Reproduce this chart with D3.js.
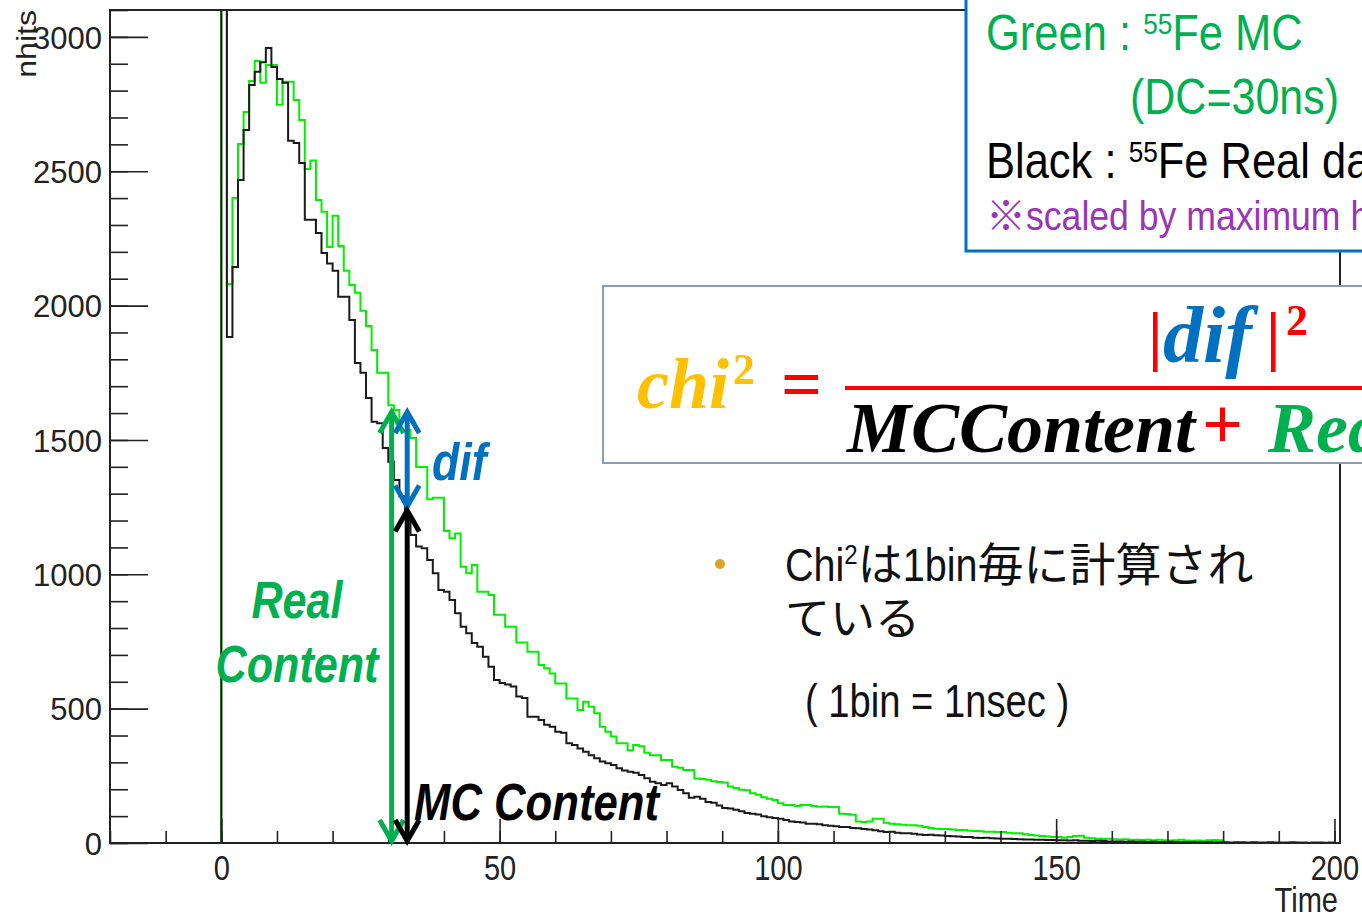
<!DOCTYPE html>
<html>
<head>
<meta charset="utf-8">
<script src="https://cdn.jsdelivr.net/npm/d3@7"></script>
<style>
  html, body { margin: 0; padding: 0; background: #ffffff; }
  svg { display: block; }
  svg text { white-space: pre; }
</style>
</head>
<body>
<svg id="chart" width="1362" height="918"></svg>
<script>
// 55Fe hit-time spectra, 1 ns bins starting at t = 0 (first bin runs off scale)
const binWidth = 1;

// Green : 55Fe MC (DC = 30 ns)
const mcHits = [
  3400, 2080, 2400, 2601, 2720, 2836, 2910, 2829, 2895, 2895,
  2747, 2833, 2833, 2765, 2691, 2508, 2540, 2393, 2349, 2218,
  2334, 2222, 2130, 2077, 2048, 1981, 1924, 1835, 1750, 1750,
  1629, 1611, 1537, 1537, 1507, 1399, 1399, 1279, 1285, 1285,
  1161, 1134, 1152, 1028, 1004, 1035, 935, 935, 923, 849,
  849, 805, 805, 746, 746, 712, 712, 662, 650, 631,
  594, 594, 538, 538, 495, 526, 507, 483, 433, 414,
  396, 371, 371, 345, 365, 360, 336, 327, 327, 309,
  309, 284, 280, 272, 272, 240, 238, 235, 230, 227,
  225, 210, 205, 198, 196, 185, 180, 170, 165, 160,
  148, 141, 141, 138, 141, 141, 138, 135, 136, 134,
  134, 109, 108, 105, 80, 78, 80, 90, 90, 75,
  72, 70, 68, 66, 66, 64, 60, 56, 53, 52,
  52, 50, 48, 48, 46, 45, 44, 42, 42, 41,
  41, 38, 36, 36, 33, 30, 28, 26, 24, 22,
  22, 20, 22, 26, 27, 20, 18, 16, 15, 16,
  14, 13, 14, 12, 12, 11, 12, 10, 12, 10,
  9, 10, 12, 9, 8, 9, 8, 10, 11, 10
];

// Black : 55Fe real data
const realHits = [
  3400, 1883, 2144, 2467, 2653, 2821, 2870, 2906, 2959, 2888,
  2843, 2829, 2613, 2605, 2531, 2319, 2319, 2270, 2196, 2157,
  2130, 2033, 2033, 1946, 1786, 1750, 1656, 1568, 1562, 1470,
  1419, 1351, 1290, 1215, 1146, 1103, 1097, 1053, 1004, 942,
  935, 904, 855, 805, 781, 744, 730, 693, 656, 607,
  595, 590, 582, 545, 540, 470, 470, 458, 440, 433,
  414, 410, 371, 365, 352, 340, 327, 315, 303, 297,
  290, 278, 270, 265, 261, 253, 241, 228, 222, 216,
  222, 210, 197, 185, 168, 172, 165, 153, 150, 140,
  130, 128, 124, 118, 112, 109, 106, 100, 96, 93,
  90, 86, 80, 78, 76, 72, 72, 70, 66, 64,
  62, 60, 60, 56, 55, 52, 50, 47, 44, 41,
  42, 38, 36, 36, 34, 32, 30, 31, 29, 28,
  26, 25, 24, 22, 22, 20, 19, 20, 18, 17,
  16, 16, 15, 14, 13, 13, 12, 12, 11, 11,
  10, 10, 9, 10, 8, 8, 7, 8, 7, 6,
  6, 6, 5, 6, 5, 5, 4, 5, 4, 4,
  5, 4, 3, 4, 4, 3, 3, 4, 3, 3,
  3, 2, 3, 3, 2, 3, 2, 2, 3, 2,
  2, 2, 3, 2, 2, 1, 2, 2, 1, 2
];

// Axis ranges and ticks
const timeRange = [-20, 201];
const hitsRange = [0, 3100];
const xMajorTicks = [0, 50, 100, 150, 200];
const xMinorTicks = [-20, -10, 0, 10, 20, 30, 40, 50, 60, 70, 80, 90, 100, 110, 120, 130, 140, 150, 160, 170, 180, 190, 200];
const yMajorTicks = [0, 500, 1000, 1500, 2000, 2500, 3000];
const yMinorTicks = [0, 100, 200, 300, 400, 500, 600, 700, 800, 900, 1000, 1100, 1200, 1300, 1400, 1500,
                     1600, 1700, 1800, 1900, 2000, 2100, 2200, 2300, 2400, 2500, 2600, 2700, 2800, 2900, 3000, 3100];

// Annotated bin: Real content / MC content and their difference
const realArrowTime = 30.6;
const mcArrowTime = 33.4;
const realContentLevel = 1611;
const mcContentLevel = 1245;

const sans = '"Liberation Sans", Arial, sans-serif';
const serif = '"Liberation Serif", "Times New Roman", serif';
const cjk = '"Noto Sans CJK JP", sans-serif';
const NARROW = 0.83;   // horizontal squeeze giving a condensed sans face

const C_GREEN = '#00b050', C_BLUE = '#0070c0', C_RED = '#ff0000', C_GOLD = '#ffc000';

const svg = d3.select('#chart');
const frame = { left: 110, top: 10, right: 1340, bottom: 843 };

const x = d3.scaleLinear().domain(timeRange).range([frame.left, frame.right]);
const y = d3.scaleLinear().domain(hitsRange).range([frame.bottom, frame.top]);

// Lays out a row of text runs, each with its own font, size, shift and squeeze
function richText(parent, px, py, runs, anchor = 'start') {
  const g = parent.append('g');
  let cx = 0;
  runs.forEach(r => {
    const sx = r.sx ?? 1;
    const t = g.append('text')
      .attr('transform', `translate(${cx},${r.dy || 0}) scale(${sx},1)`)
      .attr('font-family', r.family || sans)
      .attr('font-size', r.size)
      .attr('font-weight', r.weight || 'normal')
      .attr('font-style', r.style || 'normal')
      .attr('fill', r.fill || '#000')
      .text(r.text);
    cx += t.node().getComputedTextLength() * sx;
  });
  const off = anchor === 'middle' ? -cx / 2 : anchor === 'end' ? -cx : 0;
  g.attr('transform', `translate(${px + off},${py})`);
  return g;
}

svg.append('defs').append('clipPath').attr('id', 'plotClip')
  .append('rect')
  .attr('x', frame.left).attr('y', frame.top)
  .attr('width', frame.right - frame.left).attr('height', frame.bottom - frame.top);

// Histogram outlines (ROOT style steps)
function stepPoints(values) {
  const pts = [[timeRange[0], 0]];
  values.forEach((v, i) => pts.push([i * binWidth, v]));
  pts.push([values.length * binWidth, 0]);
  pts.push([timeRange[1], 0]);
  return pts;
}
const stepLine = d3.line()
  .x(d => x(d[0]))
  .y(d => y(d[1]))
  .curve(d3.curveStepAfter);

const plot = svg.append('g').attr('clip-path', 'url(#plotClip)');
plot.append('path')
  .attr('d', stepLine(stepPoints(mcHits)))
  .attr('fill', 'none').attr('stroke', '#00f000').attr('stroke-width', 2);
plot.append('path')
  .attr('d', stepLine(stepPoints(realHits)))
  .attr('fill', 'none').attr('stroke', '#1a1a1a').attr('stroke-width', 2);

// Axes: ticks point into the frame
function styleAxis(g) {
  g.select('.domain').remove();
  g.selectAll('line').attr('stroke', '#222').attr('stroke-width', 1.6);
}
svg.append('g').attr('transform', `translate(${frame.left},0)`)
  .call(d3.axisLeft(y).tickValues(yMinorTicks).tickSize(-18).tickFormat(''))
  .call(styleAxis);
svg.append('g').attr('transform', `translate(${frame.left},0)`)
  .call(d3.axisLeft(y).tickValues(yMajorTicks).tickSize(-38).tickPadding(8).tickFormat(d3.format('d')))
  .call(styleAxis)
  .call(g => g.selectAll('text').attr('font-family', sans).attr('font-size', 31).attr('fill', '#222').attr('dy', '0.36em'));

svg.append('g').attr('transform', `translate(0,${frame.bottom})`)
  .call(d3.axisBottom(x).tickValues(xMinorTicks).tickSize(-12).tickFormat(''))
  .call(styleAxis);
svg.append('g').attr('transform', `translate(0,${frame.bottom})`)
  .call(d3.axisBottom(x).tickValues(xMajorTicks).tickSize(-24).tickPadding(12).tickFormat(d3.format('d')))
  .call(styleAxis)
  .call(g => g.selectAll('text').attr('font-family', sans).attr('font-size', 35).attr('fill', '#222')
    .attr('transform', `scale(${NARROW},1)`));

svg.append('rect')
  .attr('x', frame.left).attr('y', frame.top)
  .attr('width', frame.right - frame.left).attr('height', frame.bottom - frame.top)
  .attr('fill', 'none').attr('stroke', '#222').attr('stroke-width', 2);

// Axis titles
svg.append('text')
  .attr('transform', 'translate(36,10) rotate(-90) scale(1.19,1)')
  .attr('text-anchor', 'end')
  .attr('font-family', sans).attr('font-size', 27).attr('fill', '#222')
  .text('nhits');
richText(svg, 1338, 912, [{ text: 'Time', size: 35, sx: NARROW, fill: '#222' }], 'end');

// Double-headed vertical arrows
function vArrow(t, v0, v1, color) {
  const g = svg.append('g').attr('stroke', color).attr('stroke-width', 5)
    .attr('fill', 'none').attr('stroke-linejoin', 'miter').attr('stroke-linecap', 'butt');
  const px = x(t), yTop = y(v1), yBot = y(v0);
  const hw = 12, hh = 23;
  g.append('line').attr('x1', px).attr('x2', px).attr('y1', yTop + 2).attr('y2', yBot - 2);
  g.append('path').attr('d', `M${px - hw},${yTop + hh} L${px},${yTop + 2} L${px + hw},${yTop + hh}`);
  g.append('path').attr('d', `M${px - hw},${yBot - hh} L${px},${yBot - 2} L${px + hw},${yBot - hh}`);
}
vArrow(realArrowTime, 0, realContentLevel, C_GREEN);
vArrow(mcArrowTime, mcContentLevel, realContentLevel, C_BLUE);
vArrow(mcArrowTime, 0, mcContentLevel, '#000');

// Arrow labels
const bold = { weight: 'bold', style: 'italic', sx: NARROW };
richText(svg, 297, 618, [{ text: 'Real', size: 52, fill: C_GREEN, ...bold }], 'middle');
richText(svg, 297, 682, [{ text: 'Content', size: 52, fill: C_GREEN, ...bold }], 'middle');
richText(svg, 432, 480, [{ text: 'dif', size: 52, fill: C_BLUE, ...bold, sx: 0.86 }]);
richText(svg, 414, 820, [{ text: 'MC Content', size: 52, fill: '#000', ...bold, sx: 0.84 }]);

// Bullet note
svg.append('circle').attr('cx', 720).attr('cy', 564).attr('r', 5).attr('fill', '#dba32a');
richText(svg, 785, 581, [
  { text: 'Chi', size: 46, sx: 0.86, fill: '#111' },
  { text: '2', size: 28, sx: 0.86, dy: -17, fill: '#111' },
  { text: 'は', size: 45, family: cjk, fill: '#111' },
  { text: '1bin', size: 46, sx: 0.86, fill: '#111' },
  { text: '毎に計算され', size: 46, family: cjk, fill: '#111' }
]);
richText(svg, 785, 635, [{ text: 'ている', size: 45, family: cjk, fill: '#111' }]);
richText(svg, 805, 717, [{ text: '( 1bin = 1nsec )', size: 46, sx: NARROW, fill: '#111' }]);

// Formula box
svg.append('rect').attr('x', 603).attr('y', 286).attr('width', 900).attr('height', 177)
  .attr('fill', '#fff').attr('stroke', '#8a9db6').attr('stroke-width', 2);
const fbi = sel => sel.attr('font-family', serif).attr('font-weight', 'bold').attr('font-style', 'italic');
const fb = sel => sel.attr('font-family', serif).attr('font-weight', 'bold');
svg.append('text').attr('x', 637).attr('y', 408).call(fbi).attr('font-size', 72).attr('fill', C_GOLD).text('chi');
svg.append('text').attr('x', 733).attr('y', 384).call(fb).attr('font-size', 44).attr('fill', C_GOLD).text('2');
svg.append('text').attr('x', 781).attr('y', 408).call(fb).attr('font-size', 72).attr('fill', C_RED).text('=');
svg.append('rect').attr('x', 845).attr('y', 386).attr('width', 600).attr('height', 4).attr('fill', C_RED);
svg.append('text').attr('x', 1148).attr('y', 358).call(fb).attr('font-size', 66).attr('fill', C_RED).text('|');
svg.append('text').attr('x', 1163).attr('y', 362).call(fbi).attr('font-size', 80).attr('fill', C_BLUE).text('dif');
svg.append('text').attr('x', 1266).attr('y', 358).call(fb).attr('font-size', 66).attr('fill', C_RED).text('|');
svg.append('text').attr('x', 1286).attr('y', 335).call(fb).attr('font-size', 44).attr('fill', C_RED).text('2');
svg.append('text').attr('x', 847).attr('y', 452).call(fbi).attr('font-size', 72).attr('fill', '#000').text('MCContent');
svg.append('text').attr('x', 1202).attr('y', 448).call(fb).attr('font-size', 72).attr('fill', C_RED).text('+');
svg.append('text').attr('x', 1268).attr('y', 452).call(fbi).attr('font-size', 72).attr('fill', C_GREEN).text('RealContent');

// Legend box
svg.append('rect').attr('x', 966).attr('y', -10).attr('width', 500).attr('height', 261)
  .attr('fill', '#fff').attr('stroke', C_BLUE).attr('stroke-width', 3);
const LS = 0.87;
function isotopeLine(px, py, prefix, rest, color) {
  richText(svg, px, py, [
    { text: prefix, size: 50, sx: LS, fill: color },
    { text: '55', size: 30, sx: LS, dy: -16, fill: color },
    { text: rest, size: 50, sx: LS, fill: color }
  ]);
}
isotopeLine(986, 50, 'Green : ', 'Fe MC', C_GREEN);
richText(svg, 1130, 114, [{ text: '(DC=30ns)', size: 50, sx: 0.86, fill: C_GREEN }]);
isotopeLine(986, 178, 'Black : ', 'Fe Real data', '#000');
richText(svg, 986, 230, [
  { text: '※', size: 40, family: cjk, fill: '#9b34b8' },
  { text: 'scaled by maximum hits', size: 40, sx: 0.89, fill: '#9b34b8' }
]);
</script>
</body>
</html>
